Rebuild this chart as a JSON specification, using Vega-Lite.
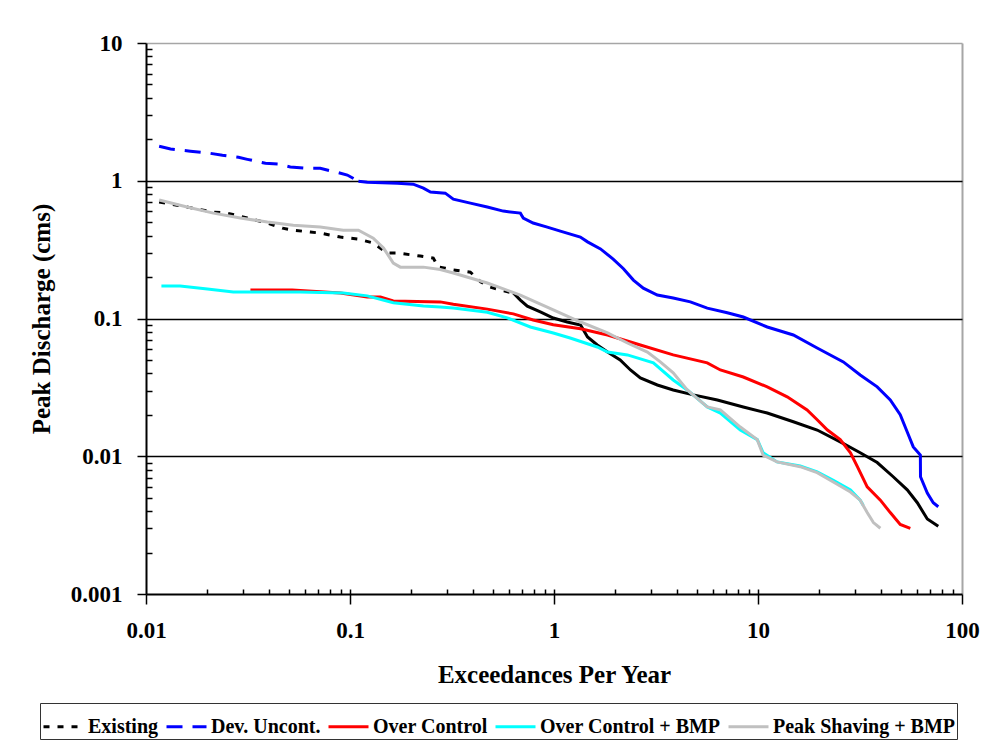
{
  "$schema": "https://vega.github.io/schema/vega-lite/v6.json",
  "width": 816,
  "height": 551,
  "autosize": "none",
  "padding": {"left": 146, "top": 43, "right": 30, "bottom": 153},
  "background": "white",
  "config": {
    "view": {"stroke": null},
    "font": "Liberation Serif",
    "axis": {"labelFont": "Liberation Serif", "labelFontWeight": "bold", "labelFontSize": 23, "labelColor": "black",
             "titleFont": "Liberation Serif", "titleFontWeight": "bold", "titleFontSize": 25, "titleColor": "black",
             "tickColor": "black", "tickWidth": 1.5, "domainColor": "black", "domainWidth": 2, "labelFlush": false, "labelOverlap": false},
    "legend": {"labelFont": "Liberation Serif", "labelFontWeight": "bold", "labelFontSize": 20, "labelColor": "black", "labelLimit": 400}
  },
  "data": {"values": [
    {"series":"Existing","x":0.0116,"y":0.70},{"series":"Existing","x":0.0142,"y":0.665},{"series":"Existing","x":0.0214,"y":0.592},{"series":"Existing","x":0.025,"y":0.582},{"series":"Existing","x":0.0314,"y":0.536},{"series":"Existing","x":0.0394,"y":0.493},{"series":"Existing","x":0.0466,"y":0.453},{"series":"Existing","x":0.0527,"y":0.438},{"series":"Existing","x":0.0639,"y":0.424},{"series":"Existing","x":0.0715,"y":0.417},{"series":"Existing","x":0.0897,"y":0.39},{"series":"Existing","x":0.110,"y":0.377},{"series":"Existing","x":0.130,"y":0.353},{"series":"Existing","x":0.152,"y":0.2985},{"series":"Existing","x":0.171,"y":0.2985},{"series":"Existing","x":0.221,"y":0.284},{"series":"Existing","x":0.256,"y":0.2745},{"series":"Existing","x":0.271,"y":0.236},{"series":"Existing","x":0.293,"y":0.232},{"series":"Existing","x":0.321,"y":0.225},{"series":"Existing","x":0.389,"y":0.217},{"series":"Existing","x":0.421,"y":0.195},{"series":"Existing","x":0.436,"y":0.185},{"series":"Existing","x":0.487,"y":0.169},{"series":"Existing","x":0.546,"y":0.161},{"series":"Existing","x":0.632,"y":0.153},{"series":"Existing","x":0.684,"y":0.136},{"series":"Existing","x":0.74,"y":0.123},{"series":"Existing","x":0.857,"y":0.1115},{"series":"Existing","x":0.992,"y":0.1008},{"series":"Existing","x":1.16,"y":0.0943},{"series":"Existing","x":1.35,"y":0.0897},{"series":"Existing","x":1.46,"y":0.0734},{"series":"Existing","x":1.63,"y":0.0642},{"series":"Existing","x":1.83,"y":0.0571},{"series":"Existing","x":2.11,"y":0.050},{"series":"Existing","x":2.37,"y":0.0423},{"series":"Existing","x":2.65,"y":0.037},{"series":"Existing","x":3.21,"y":0.0329},{"series":"Existing","x":3.84,"y":0.0303},{"series":"Existing","x":4.82,"y":0.0279},{"series":"Existing","x":6.32,"y":0.0256},{"series":"Existing","x":8.47,"y":0.0228},{"series":"Existing","x":11.1,"y":0.0206},{"series":"Existing","x":14.9,"y":0.0178},{"series":"Existing","x":19.5,"y":0.0155},{"series":"Existing","x":25.3,"y":0.0127},{"series":"Existing","x":31.7,"y":0.0106},{"series":"Existing","x":38.4,"y":0.009},{"series":"Existing","x":46.0,"y":0.0071},{"series":"Existing","x":53.9,"y":0.0057},{"series":"Existing","x":60.4,"y":0.0046},{"series":"Existing","x":67.6,"y":0.0035},{"series":"Existing","x":76.5,"y":0.0031},
    {"series":"Dev. Uncont.","x":0.0116,"y":1.78},{"series":"Dev. Uncont.","x":0.0132,"y":1.70},{"series":"Dev. Uncont.","x":0.0165,"y":1.64},{"series":"Dev. Uncont.","x":0.0202,"y":1.59},{"series":"Dev. Uncont.","x":0.0237,"y":1.53},{"series":"Dev. Uncont.","x":0.0284,"y":1.48},{"series":"Dev. Uncont.","x":0.0314,"y":1.43},{"series":"Dev. Uncont.","x":0.0385,"y":1.34},{"series":"Dev. Uncont.","x":0.0445,"y":1.32},{"series":"Dev. Uncont.","x":0.051,"y":1.26},{"series":"Dev. Uncont.","x":0.0625,"y":1.23},{"series":"Dev. Uncont.","x":0.0715,"y":1.23},{"series":"Dev. Uncont.","x":0.0867,"y":1.15},{"series":"Dev. Uncont.","x":0.097,"y":1.10},{"series":"Dev. Uncont.","x":0.110,"y":0.993},{"series":"Dev. Uncont.","x":0.1215,"y":0.977},{"series":"Dev. Uncont.","x":0.171,"y":0.961},{"series":"Dev. Uncont.","x":0.204,"y":0.945},{"series":"Dev. Uncont.","x":0.229,"y":0.884},{"series":"Dev. Uncont.","x":0.248,"y":0.827},{"series":"Dev. Uncont.","x":0.293,"y":0.813},{"series":"Dev. Uncont.","x":0.321,"y":0.736},{"series":"Dev. Uncont.","x":0.389,"y":0.688},{"series":"Dev. Uncont.","x":0.471,"y":0.644},{"series":"Dev. Uncont.","x":0.564,"y":0.602},{"series":"Dev. Uncont.","x":0.684,"y":0.582},{"series":"Dev. Uncont.","x":0.707,"y":0.536},{"series":"Dev. Uncont.","x":0.79,"y":0.493},{"series":"Dev. Uncont.","x":0.927,"y":0.461},{"series":"Dev. Uncont.","x":1.074,"y":0.431},{"series":"Dev. Uncont.","x":1.346,"y":0.390},{"series":"Dev. Uncont.","x":1.46,"y":0.36},{"series":"Dev. Uncont.","x":1.69,"y":0.32},{"series":"Dev. Uncont.","x":1.95,"y":0.27},{"series":"Dev. Uncont.","x":2.19,"y":0.23},{"series":"Dev. Uncont.","x":2.45,"y":0.19},{"series":"Dev. Uncont.","x":2.74,"y":0.166},{"series":"Dev. Uncont.","x":3.21,"y":0.148},{"series":"Dev. Uncont.","x":3.84,"y":0.141},{"series":"Dev. Uncont.","x":4.66,"y":0.132},{"series":"Dev. Uncont.","x":5.64,"y":0.119},{"series":"Dev. Uncont.","x":7.07,"y":0.11},{"series":"Dev. Uncont.","x":8.47,"y":0.1025},{"series":"Dev. Uncont.","x":11.1,"y":0.0868},{"series":"Dev. Uncont.","x":14.9,"y":0.0759},{"series":"Dev. Uncont.","x":19.5,"y":0.0611},{"series":"Dev. Uncont.","x":26.2,"y":0.0484},{"series":"Dev. Uncont.","x":31.7,"y":0.0389},{"series":"Dev. Uncont.","x":38.4,"y":0.0319},{"series":"Dev. Uncont.","x":44.5,"y":0.0256},{"series":"Dev. Uncont.","x":49.8,"y":0.0200},{"series":"Dev. Uncont.","x":53.9,"y":0.0150},{"series":"Dev. Uncont.","x":57.7,"y":0.0117},{"series":"Dev. Uncont.","x":62.5,"y":0.0102},{"series":"Dev. Uncont.","x":62.6,"y":0.0071},{"series":"Dev. Uncont.","x":67.6,"y":0.0054},{"series":"Dev. Uncont.","x":72.3,"y":0.0046},{"series":"Dev. Uncont.","x":76.5,"y":0.0043},
    {"series":"Over Control","x":0.0325,"y":0.161},{"series":"Over Control","x":0.0521,"y":0.161},{"series":"Over Control","x":0.0897,"y":0.153},{"series":"Over Control","x":0.1215,"y":0.143},{"series":"Over Control","x":0.141,"y":0.143},{"series":"Over Control","x":0.163,"y":0.134},{"series":"Over Control","x":0.277,"y":0.132},{"series":"Over Control","x":0.321,"y":0.127},{"series":"Over Control","x":0.471,"y":0.117},{"series":"Over Control","x":0.632,"y":0.108},{"series":"Over Control","x":0.79,"y":0.0975},{"series":"Over Control","x":0.992,"y":0.090},{"series":"Over Control","x":1.35,"y":0.0843},{"series":"Over Control","x":1.83,"y":0.0759},{"series":"Over Control","x":2.65,"y":0.0642},{"series":"Over Control","x":3.84,"y":0.0544},{"series":"Over Control","x":5.64,"y":0.0476},{"series":"Over Control","x":6.54,"y":0.0423},{"series":"Over Control","x":8.47,"y":0.0376},{"series":"Over Control","x":11.1,"y":0.0319},{"series":"Over Control","x":13.9,"y":0.027},{"series":"Over Control","x":17.4,"y":0.0217},{"series":"Over Control","x":19.5,"y":0.0184},{"series":"Over Control","x":21.9,"y":0.0155},{"series":"Over Control","x":25.3,"y":0.0132},{"series":"Over Control","x":28.4,"y":0.0106},{"series":"Over Control","x":30.7,"y":0.0084},{"series":"Over Control","x":34.3,"y":0.006},{"series":"Over Control","x":39.8,"y":0.0048},{"series":"Over Control","x":44.5,"y":0.0039},{"series":"Over Control","x":49.8,"y":0.0032},{"series":"Over Control","x":55.8,"y":0.0030},
    {"series":"Over Control + BMP","x":0.0119,"y":0.172},{"series":"Over Control + BMP","x":0.0147,"y":0.172},{"series":"Over Control + BMP","x":0.020,"y":0.164},{"series":"Over Control + BMP","x":0.0268,"y":0.156},{"series":"Over Control + BMP","x":0.0394,"y":0.156},{"series":"Over Control + BMP","x":0.057,"y":0.156},{"series":"Over Control + BMP","x":0.0927,"y":0.153},{"series":"Over Control + BMP","x":0.1215,"y":0.146},{"series":"Over Control + BMP","x":0.163,"y":0.13},{"series":"Over Control + BMP","x":0.229,"y":0.123},{"series":"Over Control + BMP","x":0.277,"y":0.121},{"series":"Over Control + BMP","x":0.321,"y":0.119},{"series":"Over Control + BMP","x":0.471,"y":0.111},{"series":"Over Control + BMP","x":0.59,"y":0.101},{"series":"Over Control + BMP","x":0.766,"y":0.0868},{"series":"Over Control + BMP","x":0.992,"y":0.0785},{"series":"Over Control + BMP","x":1.2,"y":0.0722},{"series":"Over Control + BMP","x":1.63,"y":0.0621},{"series":"Over Control + BMP","x":1.83,"y":0.0571},{"series":"Over Control + BMP","x":2.29,"y":0.0544},{"series":"Over Control + BMP","x":3.07,"y":0.0476},{"series":"Over Control + BMP","x":3.84,"y":0.0358},{"series":"Over Control + BMP","x":4.50,"y":0.0303},{"series":"Over Control + BMP","x":5.64,"y":0.0228},{"series":"Over Control + BMP","x":6.54,"y":0.0206},{"series":"Over Control + BMP","x":8.19,"y":0.0155},{"series":"Over Control + BMP","x":9.92,"y":0.0132},{"series":"Over Control + BMP","x":10.6,"y":0.0106},{"series":"Over Control + BMP","x":12.4,"y":0.0091},{"series":"Over Control + BMP","x":16.1,"y":0.0085},{"series":"Over Control + BMP","x":19.5,"y":0.0077},{"series":"Over Control + BMP","x":23.4,"y":0.0067},{"series":"Over Control + BMP","x":28.4,"y":0.0057},{"series":"Over Control + BMP","x":31.7,"y":0.0048},{"series":"Over Control + BMP","x":32.8,"y":0.0044},
    {"series":"Peak Shaving + BMP","x":0.0116,"y":0.724},{"series":"Peak Shaving + BMP","x":0.0159,"y":0.644},{"series":"Peak Shaving + BMP","x":0.0214,"y":0.582},{"series":"Peak Shaving + BMP","x":0.029,"y":0.536},{"series":"Peak Shaving + BMP","x":0.0394,"y":0.501},{"series":"Peak Shaving + BMP","x":0.0527,"y":0.476},{"series":"Peak Shaving + BMP","x":0.0715,"y":0.461},{"series":"Peak Shaving + BMP","x":0.0927,"y":0.438},{"series":"Peak Shaving + BMP","x":0.110,"y":0.438},{"series":"Peak Shaving + BMP","x":0.130,"y":0.383},{"series":"Peak Shaving + BMP","x":0.146,"y":0.3245},{"series":"Peak Shaving + BMP","x":0.163,"y":0.2526},{"series":"Peak Shaving + BMP","x":0.1765,"y":0.236},{"series":"Peak Shaving + BMP","x":0.229,"y":0.236},{"series":"Peak Shaving + BMP","x":0.277,"y":0.227},{"series":"Peak Shaving + BMP","x":0.321,"y":0.214},{"series":"Peak Shaving + BMP","x":0.471,"y":0.181},{"series":"Peak Shaving + BMP","x":0.684,"y":0.148},{"series":"Peak Shaving + BMP","x":0.992,"y":0.1153},{"series":"Peak Shaving + BMP","x":1.35,"y":0.0943},{"series":"Peak Shaving + BMP","x":1.83,"y":0.0785},{"series":"Peak Shaving + BMP","x":2.29,"y":0.0664},{"series":"Peak Shaving + BMP","x":2.87,"y":0.0571},{"series":"Peak Shaving + BMP","x":3.32,"y":0.0484},{"series":"Peak Shaving + BMP","x":3.84,"y":0.0403},{"series":"Peak Shaving + BMP","x":4.50,"y":0.0303},{"series":"Peak Shaving + BMP","x":5.64,"y":0.0228},{"series":"Peak Shaving + BMP","x":6.54,"y":0.0217},{"series":"Peak Shaving + BMP","x":8.19,"y":0.0163},{"series":"Peak Shaving + BMP","x":9.92,"y":0.0132},{"series":"Peak Shaving + BMP","x":10.6,"y":0.0102},{"series":"Peak Shaving + BMP","x":12.4,"y":0.0091},{"series":"Peak Shaving + BMP","x":16.1,"y":0.0084},{"series":"Peak Shaving + BMP","x":19.5,"y":0.0076},{"series":"Peak Shaving + BMP","x":23.4,"y":0.0065},{"series":"Peak Shaving + BMP","x":28.4,"y":0.0055},{"series":"Peak Shaving + BMP","x":31.7,"y":0.0048},{"series":"Peak Shaving + BMP","x":34.3,"y":0.0039},{"series":"Peak Shaving + BMP","x":36.8,"y":0.0033},{"series":"Peak Shaving + BMP","x":39.8,"y":0.0030}
  ]},
  "resolve": {"axis": {"x": "independent", "y": "independent"}},
  "layer": [
    {
      "transform": [{"filter": "(datum.series == 'Existing' && datum.x <= 0.632) || (datum.series == 'Dev. Uncont.' && datum.x <= 0.11)"}],
      "mark": {"type": "line", "strokeWidth": 3},
      "encoding": {
        "x": {"field": "x", "type": "quantitative",
          "scale": {"type": "log", "domain": [0.01, 100]},
          "axis": {"orient": "bottom", "values": [0.01, 0.1, 1, 10, 100], "format": "~g", "title": "Exceedances Per Year",
            "tickSize": 10, "labelPadding": 15, "labelFontSize": 23, "titleFontSize": 25, "titlePadding": 20,
            "grid": true, "gridColor": "#a6a6a6", "gridWidth": 2,
            "gridOpacity": {"condition": {"test": "datum.value == 100", "value": 1}, "value": 0}}},
        "y": {"field": "y", "type": "quantitative",
          "scale": {"type": "log", "domain": [0.001, 10]},
          "axis": {"orient": "left", "values": [0.001, 0.01, 0.1, 1, 10], "format": "~g", "title": "Peak Discharge (cms)",
            "tickSize": 9, "labelPadding": 15, "labelFontSize": 23, "titleFontSize": 25, "titlePadding": 16,
            "grid": true,
            "gridColor": {"condition": {"test": "datum.value == 10", "value": "#a6a6a6"}, "value": "black"},
            "gridWidth": 1.5,
            "gridOpacity": {"condition": {"test": "datum.value == 0.001", "value": 0}, "value": 1}}},
        "color": {"field": "series", "type": "nominal",
          "scale": {"domain": ["Existing", "Dev. Uncont.", "Over Control", "Over Control + BMP", "Peak Shaving + BMP"],
                    "range": ["#000000", "#0000ff", "#ff0000", "#00ffff", "#c0c0c0"]},
          "legend": {"orient": "none", "legendX": -106, "legendY": 660, "direction": "horizontal", "columns": 5, "title": null,
            "symbolType": "stroke", "symbolSize": 1600, "symbolStrokeWidth": 3, "labelFontSize": 20,
            "labelOffset": 3, "columnPadding": 1, "strokeColor": "#333333", "padding": 2}},
        "strokeDash": {"field": "series", "type": "nominal",
          "scale": {"domain": ["Existing", "Dev. Uncont.", "Over Control", "Over Control + BMP", "Peak Shaving + BMP"],
                    "range": [[6, 8], [16, 10], [1, 0], [1, 0], [1, 0]]},
          "legend": {"orient": "none", "legendX": -106, "legendY": 660, "direction": "horizontal", "columns": 5, "title": null,
            "symbolType": "stroke", "symbolSize": 1600, "symbolStrokeWidth": 3, "labelFontSize": 20,
            "labelOffset": 3, "columnPadding": 1, "strokeColor": "#333333", "padding": 2}}
      }
    },
    {
      "transform": [{"filter": "!((datum.series == 'Existing' && datum.x < 0.632) || (datum.series == 'Dev. Uncont.' && datum.x < 0.11))"}],
      "mark": {"type": "line", "strokeWidth": 3},
      "encoding": {
        "x": {"field": "x", "type": "quantitative",
          "axis": {"orient": "bottom", "values": [0.02, 0.03, 0.04, 0.05, 0.06, 0.07, 0.08, 0.09, 0.1, 0.2, 0.3, 0.4, 0.5, 0.6, 0.7, 0.8, 0.9, 1, 2, 3, 4, 5, 6, 7, 8, 9, 10, 20, 30, 40, 50, 60, 70, 80, 90],
            "tickSize": -5, "labels": false, "domain": false, "grid": false, "title": null}},
        "y": {"field": "y", "type": "quantitative",
          "axis": {"orient": "left", "values": [0.002, 0.003, 0.004, 0.005, 0.006, 0.007, 0.008, 0.009, 0.02, 0.03, 0.04, 0.05, 0.06, 0.07, 0.08, 0.09, 0.2, 0.3, 0.4, 0.5, 0.6, 0.7, 0.8, 0.9, 2, 3, 4, 5, 6, 7, 8, 9],
            "tickSize": -6, "labels": false, "domain": false, "grid": false, "title": null}},
        "color": {"field": "series", "type": "nominal", "legend": null}
      }
    }
  ]
}
